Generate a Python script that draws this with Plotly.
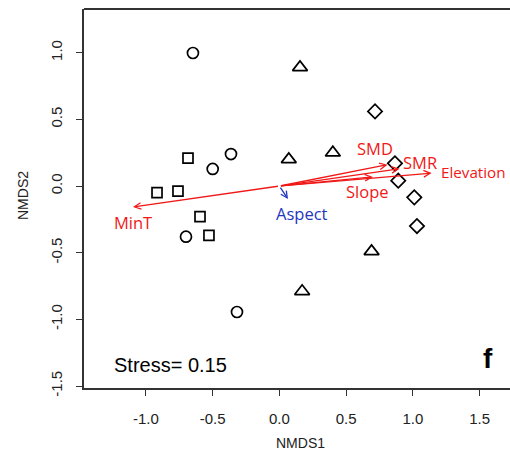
import plotly.graph_objects as go

# Site scores (NMDS1, NMDS2) by group
circle_x = [-0.648, -0.50, -0.363, -0.70, -0.318]
circle_y = [0.998, 0.128, 0.24, -0.38, -0.945]
square_x = [-0.685, -0.917, -0.76, -0.595, -0.528]
square_y = [0.21, -0.05, -0.038, -0.23, -0.37]
triangle_x = [0.154, 0.07, 0.40, 0.69, 0.17]
triangle_y = [0.89, 0.20, 0.25, -0.49, -0.79]
diamond_x = [0.716, 0.865, 0.89, 1.01, 1.03]
diamond_y = [0.56, 0.17, 0.04, -0.085, -0.30]

# Environmental vectors
vec_names = ["MinT", "Aspect", "Slope", "SMD", "SMR", "Elevation"]
vec_x = [-1.097, 0.064, 0.70, 0.81, 0.90, 1.14]
vec_y = [-0.158, -0.098, 0.068, 0.16, 0.13, 0.097]
vec_colors = ["#f01818", "#2236c0", "#f01818", "#f01818", "#f01818", "#f01818"]
lab_x = [-1.097, 0.169, 0.663, 0.715, 1.052, 1.195]
lab_y = [-0.27, -0.203, -0.038, 0.278, 0.18, 0.105]
lab_anchor = ["center", "center", "center", "center", "center", "left"]
lab_size = [16.5, 16.5, 16.5, 16.5, 16.5, 15.2]

x_ticks = [-1.0, -0.5, 0.0, 0.5, 1.0, 1.5]
y_ticks = [-1.5, -1.0, -0.5, 0.0, 0.5, 1.0]
x_range = [-1.464, 1.727]
y_range = [-1.515, 1.328]

fig = go.Figure()
mline = dict(color="black", width=1.7)
for xs, ys, sym, sz in [(circle_x, circle_y, "circle-open", 11),
                        (square_x, square_y, "square-open", 10),
                        (triangle_x, triangle_y, "triangle-up-open", 13),
                        (diamond_x, diamond_y, "diamond-open", 11)]:
    fig.add_trace(go.Scatter(x=xs, y=ys, mode="markers",
                             marker=dict(symbol=sym, size=sz, color="black", line=mline),
                             showlegend=False, hoverinfo="skip"))

for name, vx, vy, col, lx, ly, anc, fs in zip(vec_names, vec_x, vec_y, vec_colors,
                                              lab_x, lab_y, lab_anchor, lab_size):
    fig.add_annotation(x=vx, y=vy, ax=0, ay=0, xref="x", yref="y", axref="x", ayref="y",
                       showarrow=True, arrowhead=5, arrowsize=1, arrowwidth=1.3,
                       arrowcolor=col, text="")
    fig.add_annotation(x=lx, y=ly, xref="x", yref="y", text=name, showarrow=False,
                       xanchor=anc, yanchor="middle",
                       font=dict(family="Open Sans", size=fs, color=col))

fig.add_annotation(x=-0.813, y=-1.343, xref="x", yref="y", text="Stress= 0.15",
                   showarrow=False, font=dict(family="Liberation Sans", size=20, color="black"))
fig.add_annotation(x=1.56, y=-1.29, xref="x", yref="y", text="<b>f</b>",
                   showarrow=False, font=dict(family="Liberation Sans", size=28, color="black"))

# axis titles
fig.add_annotation(x=(300 - 84) / 426, y=-(453 - 388) / 379, xref="x domain", yref="y domain",
                   text="NMDS1", showarrow=False,
                   font=dict(family="Liberation Sans", size=14, color="#222"))
fig.add_annotation(x=-(84 - 13) / 426, y=(388 - 196) / 379, xref="x domain", yref="y domain",
                   text="NMDS2", showarrow=False, textangle=-90,
                   font=dict(family="Liberation Sans", size=14, color="#222"))

# top frame line
fig.add_shape(type="line", xref="paper", yref="paper", x0=0, x1=1, y0=1, y1=1,
              line=dict(color="#333", width=1.8))

axis_common = dict(showgrid=False, zeroline=False, showline=True, linecolor="#333", linewidth=1.8,
                   ticks="outside", ticklen=6, tickwidth=1.3, tickcolor="#333",
                   tickfont=dict(family="Liberation Sans", size=15, color="#222"))
fig.update_xaxes(range=x_range, tickvals=x_ticks, ticktext=[f"{v:.1f}" for v in x_ticks],
                 ticklabelstandoff=10, **axis_common)
fig.update_yaxes(range=y_range, tickvals=y_ticks, ticktext=[f"{v:.1f}" for v in y_ticks],
                 tickangle=-90, ticklabelstandoff=8, **axis_common)

fig.update_layout(width=510, height=462, margin=dict(l=84, r=0, t=9, b=74),
                  plot_bgcolor="white", paper_bgcolor="white")
fig.write_html("out.html")
